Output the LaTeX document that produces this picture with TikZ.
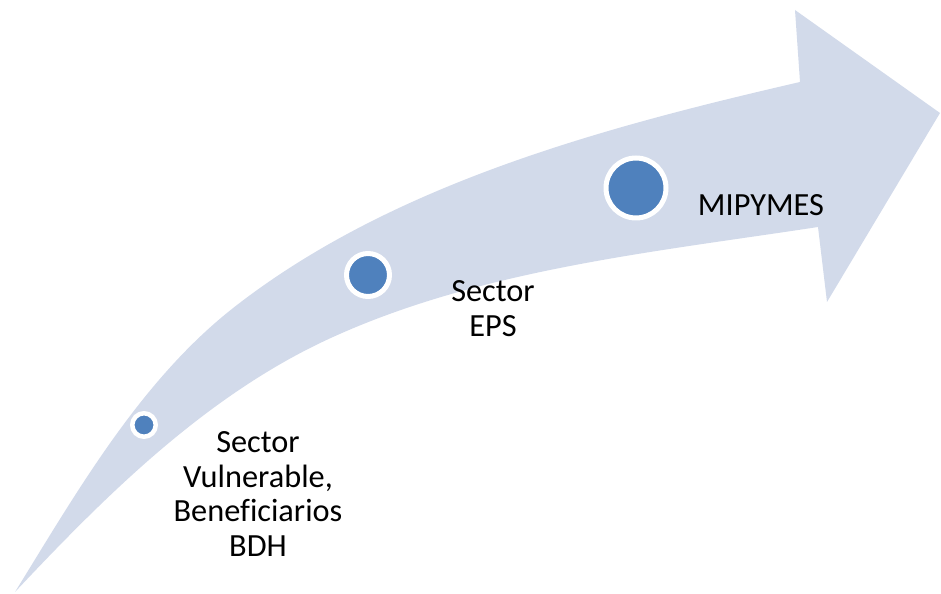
\documentclass[tikz,border=0pt]{standalone}
\usepackage{fontspec}
\setmainfont{Carlito}[Ligatures=CommonOff]
\definecolor{arrowfill}{RGB}{210,218,234}
\definecolor{dotblue}{RGB}{79,129,189}

\begin{document}
\begin{tikzpicture}[x=0.02cm,y=-0.02cm,
    every node/.style={font=\fontsize{18.4}{19.9}\selectfont,align=center,inner sep=0pt},
    dot/.style={circle,fill=dotblue,draw=white,line width=0.1cm}]
    \useasboundingbox (0,0) rectangle (941,594);

    % curved arrow
    \fill[arrowfill] (15,592) .. controls (78,490) and (142,378) .. (237,305)
        .. controls (395,183) and (605,127) .. (800,82)
        -- (795,10) -- (940,113) -- (827,302) -- (818,227)
        .. controls (655,252) and (483,269) .. (333,337)
        .. controls (209,393) and (108,493) .. (15,592) -- cycle;

    % dots
    \node[dot,minimum size=0.47cm,line width=0.09cm] (d1) at (144,425) {};
    \node[dot,minimum size=0.86cm] (d2) at (368,275) {};
    \node[dot,minimum size=1.2cm] (d3) at (636,188) {};

    % labels
    \node (l1) at (258,494) {Sector\\ Vulnerable,\\ Beneficiarios\\ BDH};
    \node (l2) at (493,309) {Sector\\ EPS};
    \node (l3) at (761,205) {MIPYMES};
\end{tikzpicture}
\end{document}
